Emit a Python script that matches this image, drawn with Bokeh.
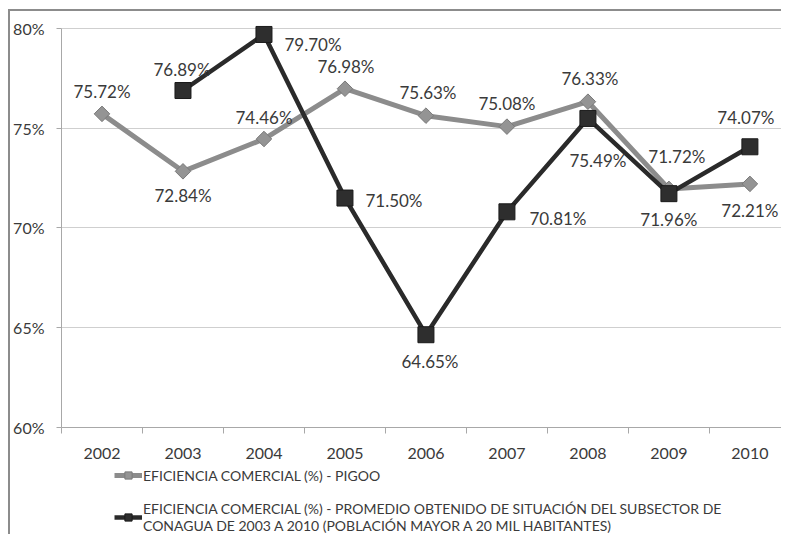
from bokeh.plotting import figure
from bokeh.layouts import column
from bokeh.models import (ColumnDataSource, FixedTicker, PrintfTickFormatter, Legend,
                          LegendItem, Range1d)
from bokeh.embed import file_html
from bokeh.resources import INLINE
from bokeh.core.properties import value

# ---------------- data ----------------
years = [2002, 2003, 2004, 2005, 2006, 2007, 2008, 2009, 2010]
year_labels = ["2002", "2003", "2004", "2005", "2006", "2007", "2008", "2009", "2010"]
pigoo = [75.72, 72.84, 74.46, 76.98, 75.63, 75.08, 76.33, 71.96, 72.21]
conagua_years = [2003, 2004, 2005, 2006, 2007, 2008, 2009, 2010]
conagua = [76.89, 79.70, 71.50, 64.65, 70.81, 75.49, 71.72, 74.07]
y_ticks = [60, 65, 70, 75, 80]
series_names = [
    "EFICIENCIA COMERCIAL (%) - PIGOO",
    "EFICIENCIA COMERCIAL (%) - PROMEDIO OBTENIDO DE SITUACIÓN DEL SUBSECTOR DE\n"
    "CONAGUA DE 2003 A 2010 (POBLACIÓN MAYOR A 20 MIL HABITANTES)",
]

# label placement (screen pixel offsets)
pigoo_dx = [0, 0, 0, 1, 2, 0, 2, 0, 0]
pigoo_dy = [-22, 24, -22, -22, -23, -23, -23, 31, 27]
conagua_dx = [-1, 49, 49, 4, 51, 10, 8, -4]
conagua_dy = [-21, 10, 2, 27, 7, 42, -37, -29]

FONT = "Lato"
TXT = "#3a3a3a"
C1 = "#8c8c8c"
C2 = "#2a2a2a"
BORDER = "2px solid #8c8c8c"


def style_series(fig, s1, s2):
    l1 = fig.line("x", "y", source=s1, line_color=C1, line_width=5)
    m1 = fig.scatter("x", "y", source=s1, marker="square", angle=0.785, size=11,
                     fill_color="#949494", line_color="#7a7a7a", line_width=1)
    l2 = fig.line("x", "y", source=s2, line_color=C2, line_width=4.5)
    m2 = fig.scatter("x", "y", source=s2, marker="square", size=16,
                     fill_color="#2e2e2e", line_color="#1a1a1a", line_width=1)
    return l1, m1, l2, m2


src1 = ColumnDataSource(dict(x=years, y=pigoo, lab=[f"{v:.2f}%" for v in pigoo],
                             dx=pigoo_dx, dy=pigoo_dy))
src2 = ColumnDataSource(dict(x=conagua_years, y=conagua, lab=[f"{v:.2f}%" for v in conagua],
                             dx=conagua_dx, dy=conagua_dy))

step_px = 81.1
W = 773
frame_w = W - 50
p = figure(width=W, height=451, output_backend="svg", toolbar_location=None,
           x_range=Range1d(2001.5, 2001.5 + frame_w / step_px), y_range=Range1d(60, 80.6),
           min_border_left=50, min_border_right=0, min_border_top=5, min_border_bottom=35)
p.outline_line_color = None
p.background_fill_color = "white"
p.border_fill_color = "white"
p.styles = {"border-top": BORDER, "border-left": BORDER}

# axes
p.xaxis.ticker = FixedTicker(ticks=years, minor_ticks=[y - 0.5 for y in years] + [years[-1] + 0.5])
p.xaxis.major_label_overrides = {y: l for y, l in zip(years, year_labels)}
p.xaxis.major_tick_out = 0
p.xaxis.major_tick_in = 0
p.xaxis.minor_tick_out = 6
p.xaxis.minor_tick_in = 0
p.xaxis.minor_tick_line_color = "#a8a8a8"
p.xaxis.axis_line_color = "#a8a8a8"
p.xaxis.major_label_standoff = 14
p.yaxis.ticker = FixedTicker(ticks=y_ticks, minor_ticks=[])
p.yaxis.formatter = PrintfTickFormatter(format="%d%%")
p.yaxis.bounds = (60, 80)
p.yaxis.axis_line_color = "#a8a8a8"
p.yaxis.major_tick_line_color = "#a8a8a8"
p.yaxis.major_tick_out = 5
p.yaxis.major_tick_in = 0
p.yaxis.major_label_standoff = 12
for ax in (p.xaxis, p.yaxis):
    ax.major_label_text_font = FONT
    ax.major_label_text_font_size = "16px"
    ax.major_label_text_color = TXT
p.xgrid.grid_line_color = None
p.ygrid.grid_line_color = "#cfcfcf"
p.ygrid.ticker = FixedTicker(ticks=y_ticks)

style_series(p, src1, src2)
for src in (src1, src2):
    p.text("x", "y", text="lab", source=src, x_offset="dx", y_offset="dy",
           text_align="center", text_baseline="middle", text_font=value(FONT),
           text_font_size="17px", text_color=TXT)

# ---------------- legend strip ----------------
q = figure(width=W, height=74, output_backend="svg", toolbar_location=None,
           x_range=Range1d(0, 1), y_range=Range1d(0, 1),
           min_border_left=50, min_border_right=0, min_border_top=0, min_border_bottom=0)
q.axis.visible = False
q.grid.visible = False
q.outline_line_color = None
q.border_fill_color = "white"
q.styles = {"border-left": BORDER}
e1 = ColumnDataSource(dict(x=[-5], y=[-5]))
e2 = ColumnDataSource(dict(x=[-5], y=[-5]))
ql1, qm1, ql2, qm2 = style_series(q, e1, e2)
legend = Legend(items=[LegendItem(label=series_names[0], renderers=[ql1, qm1]),
                       LegendItem(label=series_names[1], renderers=[ql2, qm2])],
                orientation="vertical", location=(53, 0), padding=0, margin=0,
                spacing=16, glyph_width=28, glyph_height=18, label_standoff=1,
                border_line_color=None, background_fill_alpha=0,
                label_text_font=FONT, label_text_font_size="14px",
                label_text_color=TXT, label_text_line_height=1.15)
q.add_layout(legend, "center")

layout = column(p, q, spacing=0)
layout.styles = {"margin-left": "8px", "margin-top": "9px"}

open("out.html", "w").write(file_html(layout, INLINE))
